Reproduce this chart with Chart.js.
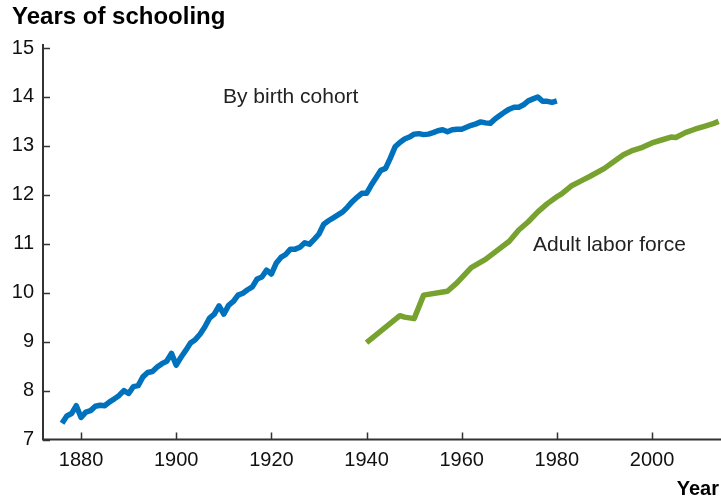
<!DOCTYPE html>
<html>
<head>
<meta charset="utf-8">
<script src="https://cdn.jsdelivr.net/npm/chart.js@4.4.1/dist/chart.umd.min.js"></script>
<style>
  html, body { margin: 0; padding: 0; background: #fff; }
  canvas { display: block; }
</style>
</head>
<body>
<canvas id="chart" width="721" height="503"></canvas>
<script>
// --- Data ---

const cohortYears = [
  1876, 1877, 1878, 1879, 1880, 1881, 1882, 1883, 1884, 1885,
  1886, 1887, 1888, 1889, 1890, 1891, 1892, 1893, 1894, 1895,
  1896, 1897, 1898, 1899, 1900, 1901, 1902, 1903, 1904, 1905,
  1906, 1907, 1908, 1909, 1910, 1911, 1912, 1913, 1914, 1915,
  1916, 1917, 1918, 1919, 1920, 1921, 1922, 1923, 1924, 1925,
  1926, 1927, 1928, 1929, 1930, 1931, 1932, 1933, 1934, 1935,
  1936, 1937, 1938, 1939, 1940, 1941, 1942, 1943, 1944, 1945,
  1946, 1947, 1948, 1949, 1950, 1951, 1952, 1953, 1954, 1955,
  1956, 1957, 1958, 1959, 1960, 1961, 1962, 1963, 1964, 1965,
  1966, 1967, 1968, 1969, 1970, 1971, 1972, 1973, 1974, 1975,
  1976, 1977, 1978, 1979, 1980
];
const cohortValues = [
  7.33, 7.48, 7.53, 7.69, 7.45, 7.56, 7.59, 7.68, 7.70, 7.69,
  7.77, 7.83, 7.90, 8.00, 7.94, 8.08, 8.10, 8.28, 8.37, 8.39,
  8.48, 8.55, 8.60, 8.76, 8.52, 8.68, 8.82, 8.97, 9.04, 9.15,
  9.30, 9.48, 9.56, 9.73, 9.56, 9.74, 9.82, 9.95, 9.99, 10.06,
  10.12, 10.28, 10.32, 10.46, 10.38, 10.60, 10.72, 10.78, 10.89, 10.89,
  10.93, 11.02, 10.99, 11.09, 11.20, 11.40, 11.47, 11.53, 11.59, 11.65,
  11.75, 11.86, 11.95, 12.03, 12.03, 12.20, 12.35, 12.50, 12.54, 12.75,
  12.98, 13.07, 13.14, 13.18, 13.24, 13.25, 13.23, 13.24, 13.27, 13.31,
  13.33, 13.29, 13.33, 13.34, 13.34, 13.38, 13.42, 13.45, 13.49, 13.47,
  13.46, 13.55, 13.62, 13.69, 13.75, 13.79, 13.79, 13.84, 13.92, 13.96,
  14.00, 13.91, 13.91, 13.89, 13.92
];

const laborYears = [
  1940, 1947, 1948, 1950, 1952, 1957, 1959, 1962, 1965, 1967,
  1970, 1972, 1974, 1976, 1978, 1980, 1981, 1983, 1985, 1987,
  1990, 1992, 1994, 1996, 1998, 2000, 2002, 2004, 2005, 2007,
  2009, 2011, 2013, 2014
];
const laborValues = [
  8.98, 9.53, 9.50, 9.47, 9.95, 10.03, 10.20, 10.51, 10.68, 10.83,
  11.05, 11.28, 11.45, 11.65, 11.82, 11.96, 12.02, 12.18, 12.28, 12.38,
  12.54, 12.68, 12.82, 12.91, 12.97, 13.06, 13.12, 13.18, 13.17, 13.27,
  13.34, 13.40, 13.46, 13.50
];

const xTickValues = [1880, 1900, 1920, 1940, 1960, 1980, 2000];
const yTickValues = [7, 8, 9, 10, 11, 12, 13, 14, 15];

const BLUE = '#0071bc';
const GREEN = '#77a22f';
const AXIS = '#333333';
const FONT = '"Liberation Sans", Arial, Helvetica, sans-serif';

// --- Plugins ---

// axis lines with inward tick marks
const axesPlugin = {
  id: 'inwardAxes',
  afterDatasetsDraw(chart) {
    const { ctx, chartArea, scales } = chart;
    ctx.save();
    ctx.strokeStyle = AXIS;
    ctx.lineWidth = 2;
    ctx.beginPath();
    ctx.moveTo(chartArea.left, chartArea.top - 4);
    ctx.lineTo(chartArea.left, chartArea.bottom);
    ctx.lineTo(chartArea.right, chartArea.bottom);
    ctx.stroke();

    ctx.lineWidth = 1.5;
    ctx.beginPath();
    yTickValues.forEach(v => {
      const y = Math.round(scales.y.getPixelForValue(v)) + 0.5;
      ctx.moveTo(chartArea.left, y);
      ctx.lineTo(chartArea.left + 7, y);
    });
    xTickValues.forEach(v => {
      const x = Math.round(scales.x.getPixelForValue(v)) + 0.5;
      ctx.moveTo(x, chartArea.bottom);
      ctx.lineTo(x, chartArea.bottom - 7);
    });
    ctx.stroke();
    ctx.restore();
  }
};

const textPlugin = {
  id: 'labels',
  afterDraw(chart) {
    const { ctx } = chart;
    ctx.save();
    ctx.fillStyle = '#000';
    ctx.textBaseline = 'middle';
    ctx.font = `bold 24px ${FONT}`;
    ctx.textAlign = 'left';
    ctx.fillText('Years of schooling', 12, 17);
    ctx.font = `bold 20px ${FONT}`;
    ctx.textAlign = 'right';
    ctx.fillText('Year', 719, 489);

    ctx.fillStyle = '#222';
    ctx.font = `21px ${FONT}`;
    ctx.textAlign = 'left';
    ctx.fillText('By birth cohort', 223, 97);
    ctx.fillText('Adult labor force', 533, 245);
    ctx.restore();
  }
};

// --- Chart ---

new Chart(document.getElementById('chart'), {
  type: 'line',
  data: {
    datasets: [
      {
        label: 'By birth cohort',
        data: cohortYears.map((yr, i) => ({ x: yr, y: cohortValues[i] })),
        borderColor: BLUE,
        borderWidth: 5.5,
        pointRadius: 0,
        tension: 0,
        borderJoinStyle: 'round'
      },
      {
        label: 'Adult labor force',
        data: laborYears.map((yr, i) => ({ x: yr, y: laborValues[i] })),
        borderColor: GREEN,
        borderWidth: 5.5,
        pointRadius: 0,
        tension: 0,
        borderJoinStyle: 'round'
      }
    ]
  },
  options: {
    responsive: false,
    animation: false,
    layout: { padding: { top: 48, left: 0, right: 0, bottom: 0 } },
    plugins: {
      legend: { display: false },
      tooltip: { enabled: false }
    },
    scales: {
      x: {
        type: 'linear',
        min: 1872,
        max: 2014.5,
        grid: { display: false, drawTicks: false },
        border: { display: false },
        afterBuildTicks: scale => { scale.ticks = xTickValues.map(v => ({ value: v })); },
        afterFit: scale => { scale.height = 63.5; },
        ticks: {
          color: '#111',
          font: { family: FONT, size: 20 },
          padding: 9,
          maxRotation: 0,
          callback: v => String(v)
        }
      },
      y: {
        type: 'linear',
        min: 7,
        max: 15,
        grid: { display: false, drawTicks: false },
        border: { display: false },
        afterBuildTicks: scale => { scale.ticks = yTickValues.map(v => ({ value: v })); },
        afterFit: scale => { scale.width = 43; },
        ticks: {
          color: '#111',
          font: { family: FONT, size: 20 },
          padding: 9
        }
      }
    }
  },
  plugins: [axesPlugin, textPlugin]
});
</script>
</body>
</html>
